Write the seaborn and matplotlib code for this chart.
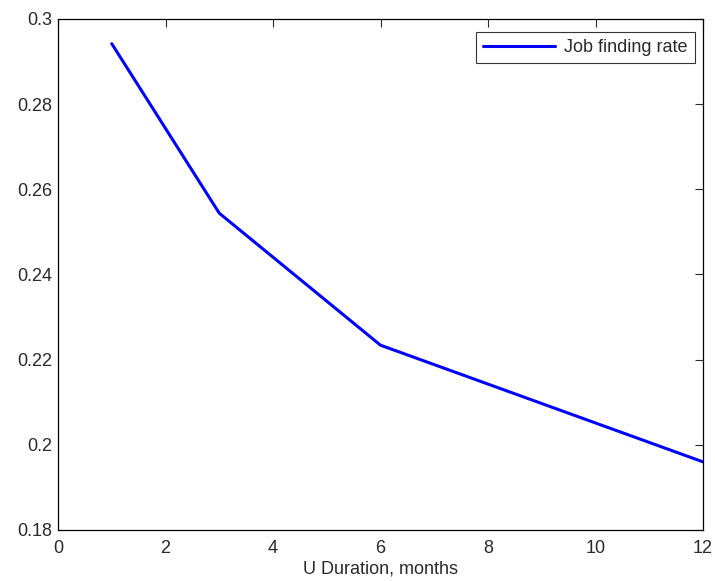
import matplotlib
matplotlib.use("Agg")
import matplotlib.pyplot as plt
import seaborn as sns
import pandas as pd

duration = [1, 3, 6, 12]
job_finding_rate = [0.2942, 0.2544, 0.2234, 0.1960]
xticks = [0, 2, 4, 6, 8, 10, 12]
yticks = [0.18, 0.2, 0.22, 0.24, 0.26, 0.28, 0.3]
ytick_labels = ["0.18", "0.2", "0.22", "0.24", "0.26", "0.28", "0.3"]

sns.set_style("white")
plt.rcParams['font.family'] = ['Liberation Sans', 'DejaVu Sans']

df = pd.DataFrame({"x": duration, "y": job_finding_rate, "series": "Job finding rate"})

fig = plt.figure(figsize=(7.15, 5.81), dpi=100)
ax = fig.add_axes([58/715, 1 - 530/581, 645/715, 511/581])
sns.lineplot(data=df, x="x", y="y", hue="series", palette=["#0000ff"], linewidth=2.2, ax=ax)

ax.set_xlim(0, 12)
ax.set_ylim(0.18, 0.3)
ax.set_xticks(xticks)
ax.set_xticklabels([str(t) for t in xticks])
ax.set_yticks(yticks)
ax.set_yticklabels(ytick_labels)
ax.tick_params(direction="in", length=6, width=0.8, top=True, right=True,
               labelsize=13, colors="#2a2a2a")
ax.tick_params(axis="x", pad=7)
ax.tick_params(axis="y", pad=4)
for s in ax.spines.values():
    s.set_color("black")
    s.set_linewidth(0.9)
ax.set_xlabel("U Duration, months", fontsize=13, labelpad=3, color="#2a2a2a")
ax.set_ylabel("")

leg = ax.legend(loc="upper right", bbox_to_anchor=(695/715, 1 - 32/581),
                bbox_transform=fig.transFigure, borderaxespad=0,
                fontsize=13, frameon=True, fancybox=False,
                edgecolor="black", handlelength=4.0,
                borderpad=0.4, handletextpad=0.5)
leg.get_frame().set_linewidth(0.8)
for t in leg.get_texts():
    t.set_color("#2a2a2a")

fig.savefig("out.png", dpi=100)
